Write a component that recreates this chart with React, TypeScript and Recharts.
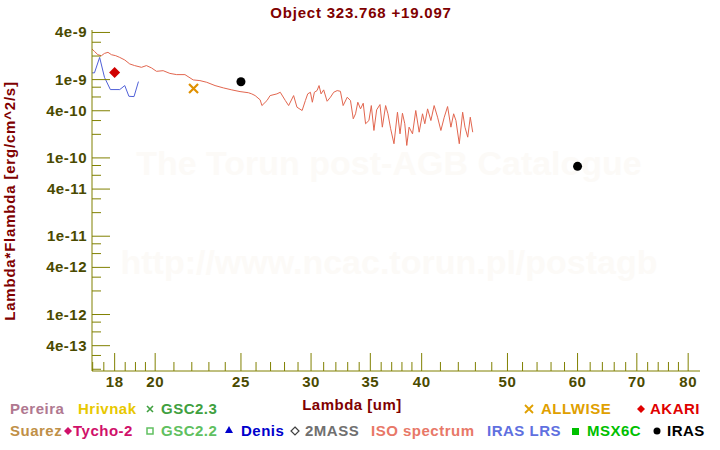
import React from 'react';
import { ComposedChart, Line, Scatter, XAxis, YAxis } from 'recharts';

// ISO SWS spectrum, lambda in um, lambda*F_lambda in units of 1e-9 erg/cm^2/s
const isoLambda = [16.97, 17.08, 17.23, 17.39, 17.53, 17.69, 17.85, 18.05, 18.24, 18.48, 18.72, 18.96, 19.3, 19.55, 19.81, 20.07, 20.42, 20.78, 21.15, 21.61, 22.08, 22.47, 22.87, 23.37, 23.88, 24.41, 24.94, 25.49, 25.71, 25.94, 26.28, 26.4, 26.75, 26.97, 27.45, 27.69, 28.06, 28.3, 28.67, 28.92, 29.31, 29.56, 29.74, 29.95, 30.1, 30.26, 30.47, 30.63, 30.79, 31.0, 31.28, 31.55, 31.82, 32.11, 32.38, 32.61, 32.96, 33.24, 33.48, 33.68, 33.88, 34.12, 34.36, 34.57, 34.87, 35.09, 35.33, 35.58, 35.89, 36.11, 36.42, 36.64, 36.9, 37.22, 37.56, 37.81, 38.05, 38.28, 38.48, 38.71, 39.06, 39.39, 39.74, 40.09, 40.33, 40.62, 40.97, 41.32, 41.69, 42.05, 42.42, 42.79, 43.16, 43.47, 43.73, 44.11, 44.5, 44.77, 45.09, 45.39, 45.68];
const isoFlux = [2.46, 2.29, 2.08, 2.02, 2.16, 2.23, 2.08, 2.02, 1.92, 1.78, 1.585, 1.51, 1.435, 1.51, 1.41, 1.276, 1.3, 1.2, 1.158, 1.158, 0.991, 0.971, 0.924, 0.839, 0.784, 0.739, 0.703, 0.68, 0.657, 0.625, 0.551, 0.466, 0.54, 0.625, 0.657, 0.689, 0.54, 0.466, 0.625, 0.444, 0.403, 0.54, 0.657, 0.689, 0.514, 0.689, 0.724, 0.839, 0.657, 0.739, 0.529, 0.595, 0.689, 0.724, 0.709, 0.466, 0.595, 0.54, 0.316, 0.366, 0.514, 0.423, 0.499, 0.273, 0.3, 0.466, 0.224, 0.411, 0.48, 0.247, 0.466, 0.366, 0.2355, 0.1517, 0.383, 0.203, 0.372, 0.273, 0.1443, 0.247, 0.203, 0.403, 0.213, 0.366, 0.273, 0.423, 0.3, 0.466, 0.331, 0.224, 0.331, 0.453, 0.247, 0.366, 0.3, 0.1517, 0.383, 0.247, 0.184, 0.331, 0.213];

// IRAS LRS (same units)
const lrsLambda = [16.97, 17.08, 17.31, 17.53, 17.8, 18.24, 18.48, 18.68, 18.93, 19.15];
const lrsFlux = [1.22, 1.22, 1.92, 1.07, 0.746, 0.746, 0.839, 0.612, 0.607, 0.943];

// photometry
const akariLambda = [18];
const akariFlux = [1.23];
const allwiseLambda = [22.1];
const allwiseFlux = [0.768];
const irasLambda = [25, 60];
const irasFlux = [0.94, 0.078];

const xTicks = [17, 17.5, 18, 18.5, 19, 19.5, 20, 21, 22, 23, 24, 25, 26, 27, 28, 29, 30, 31, 32, 33, 34, 35, 36, 37, 38, 39, 40, 42, 44, 46, 48, 50, 52, 54, 56, 58, 60, 62, 64, 66, 68, 70, 72, 74, 76, 78, 80];
const xLabels = [18, 20, 25, 30, 35, 40, 50, 60, 70, 80];
const yTicks = [2e-13, 3e-13, 4e-13, 6e-13, 8e-13, 1e-12, 2e-12, 3e-12, 4e-12, 6e-12, 8e-12, 1e-11, 2e-11, 3e-11, 4e-11, 6e-11, 8e-11, 1e-10, 2e-10, 3e-10, 4e-10, 6e-10, 8e-10, 1e-9, 2e-9, 3e-9, 4e-9];
const yLabels = [4e-13, 1e-12, 4e-12, 1e-11, 4e-11, 1e-10, 4e-10, 1e-9, 4e-9];

const E9 = 1e-9;
const toRows = (xs: number[], ys: number[]) => xs.map((x, i) => ({ x, y: ys[i] * E9 }));
const isoData = toRows(isoLambda, isoFlux);
const lrsData = toRows(lrsLambda, lrsFlux);
const akariData = toRows(akariLambda, akariFlux);
const allwiseData = toRows(allwiseLambda, allwiseFlux);
const irasData = toRows(irasLambda, irasFlux);

const OLIVE = '#808000';
const TICKTXT = '#4a4a00';
const DARKRED = '#800000';
const FONT = '"Liberation Sans", Arial, sans-serif';
const LONG = 18;
const SHORT = 9;

const isMajorX = (v: number) => xLabels.includes(v);
const isMajorY = (v: number) => yLabels.some((l) => Math.abs(l - v) / l < 1e-6);

const labelStyle = { fontFamily: FONT, fontWeight: 700, fontSize: 15, letterSpacing: 0.5 } as const;

function BottomTick(props: any) {
  const { x, y, payload } = props;
  const major = isMajorX(payload.value);
  return (
    <g>
      <line x1={x} x2={x} y1={y} y2={y - (major ? LONG : SHORT)} stroke={OLIVE} />
      {major && (
        <text x={x} y={y + 16} textAnchor="middle" fill={TICKTXT} style={labelStyle}>
          {payload.value}
        </text>
      )}
    </g>
  );
}

function TopTick(props: any) {
  const { x, y, payload } = props;
  const major = isMajorX(payload.value);
  return <line x1={x} x2={x} y1={y} y2={y + (major ? LONG : SHORT)} stroke={OLIVE} />;
}

function LeftTick(props: any) {
  const { x, y, payload } = props;
  const major = isMajorY(payload.value);
  return (
    <g>
      <line x1={x} x2={x + (major ? LONG : SHORT)} y1={y} y2={y} stroke={OLIVE} />
      {major && (
        <text x={x - 5} y={y + 5} textAnchor="end" fill={TICKTXT} style={labelStyle}>
          {Number(payload.value).toExponential(0)}
        </text>
      )}
    </g>
  );
}

function RightTick(props: any) {
  const { x, y, payload } = props;
  const major = isMajorY(payload.value);
  return <line x1={x} x2={x - (major ? LONG : SHORT)} y1={y} y2={y} stroke={OLIVE} />;
}

const Diamond = (props: any) => {
  const { cx, cy } = props;
  return <path d={`M${cx},${cy - 5.5}L${cx + 5.5},${cy}L${cx},${cy + 5.5}L${cx - 5.5},${cy}Z`} fill="#d00000" />;
};
const Cross = (props: any) => {
  const { cx, cy } = props;
  return <path d={`M${cx - 4.5},${cy - 4.5}L${cx + 4.5},${cy + 4.5}M${cx + 4.5},${cy - 4.5}L${cx - 4.5},${cy + 4.5}`} stroke="#e09000" strokeWidth={2.2} />;
};
const Dot = (props: any) => {
  const { cx, cy } = props;
  return <circle cx={cx} cy={cy} r={4.5} fill="#000" />;
};

const xDomain = [16.97, 82.5];
const yDomain = [1.9e-13, 4.3e-9];

function Overlay() {
  const t = { ...labelStyle };
  return (
    <svg width={720} height={450} style={{ position: 'absolute', left: 0, top: 0, pointerEvents: 'none' }}>
      <text x={361} y={18} textAnchor="middle" fill={DARKRED} style={{ ...t, letterSpacing: 0.8 }}>Object 323.768 +19.097</text>
      <text x={352} y={410} textAnchor="middle" fill={DARKRED} style={t}>Lambda [um]</text>
      <text x={15} y={201} textAnchor="middle" fill={DARKRED} transform="rotate(-90 15 201)" style={{ ...t, letterSpacing: 0.8 }}>Lambda*Flambda [erg/cm^2/s]</text>

      {/* legend row 1 */}
      <text x={10} y={414} fill="#b07890" style={t}>Pereira</text>
      <text x={78} y={414} fill="#e8c800" style={t}>Hrivnak</text>
      <path d="M147,406L153,412M153,406L147,412" stroke="#40a040" strokeWidth={1.6} />
      <text x={161} y={414} fill="#40a040" style={t}>GSC2.3</text>
      <path d="M525,405L533,413M533,405L525,413" stroke="#e0a000" strokeWidth={1.8} />
      <text x={541} y={414} fill="#e0a000" style={t}>ALLWISE</text>
      <path d="M641,405L645,409L641,413L637,409Z" fill="#e00000" />
      <text x={650} y={414} fill="#e00000" style={t}>AKARI</text>

      {/* legend row 2 */}
      <text x={10} y={436} fill="#c09048" style={t}>Suarez</text>
      <path d="M68,427L72,431L68,435L64,431Z" fill="#d0106a" />
      <text x={73} y={436} fill="#d0106a" style={t}>Tycho-2</text>
      <rect x={147} y={428} width={6} height={6} fill="none" stroke="#60c060" strokeWidth={1.5} />
      <text x={161} y={436} fill="#60c060" style={t}>GSC2.2</text>
      <path d="M229,426L233,433L225,433Z" fill="#0000cc" />
      <text x={241} y={436} fill="#0000cc" style={t}>Denis</text>
      <path d="M295,427L299,431L295,435L291,431Z" fill="none" stroke="#404040" strokeWidth={1.2} />
      <text x={305} y={436} fill="#707070" style={t}>2MASS</text>
      <text x={371} y={436} fill="#e87868" style={t}>ISO spectrum</text>
      <text x={487} y={436} fill="#6070e0" style={t}>IRAS LRS</text>
      <rect x={572} y={428} width={7} height={7} fill="#00c000" />
      <text x={587} y={436} fill="#00c000" style={t}>MSX6C</text>
      <circle cx={657} cy={431} r={3.5} fill="#000" />
      <text x={667} y={436} fill="#000" style={t}>IRAS</text>
    </svg>
  );
}

export default function App() {
  return (
    <div style={{ position: 'absolute', left: 0, top: 0, width: 720, height: 450, background: '#fff' }}>
      <div style={{ position: 'absolute', left: 0, top: 0, width: 720, height: 450, fontFamily: FONT, fontWeight: 700, fontSize: 34, color: '#fcfaf7' }}>
        <div style={{ position: 'absolute', left: 0, width: 778, top: 144, textAlign: 'center' }}>The Torun post-AGB Catalogue</div>
        <div style={{ position: 'absolute', left: 0, width: 778, top: 243, textAlign: 'center' }}>http://www.ncac.torun.pl/postagb</div>
      </div>
      <div style={{ position: 'absolute', left: 0, top: 0 }}>
        <ComposedChart width={720} height={450} margin={{ top: 30, right: 20, bottom: 0, left: 0 }}>
          <XAxis
            dataKey="x"
            type="number"
            scale="log"
            domain={xDomain}
            allowDataOverflow
            ticks={xTicks}
            interval={0}
            height={79}
            tickSize={0}
            tickMargin={0}
            tickLine={false}
            axisLine={{ stroke: OLIVE }}
            tick={BottomTick}
          />
          <XAxis
            xAxisId="top"
            orientation="top"
            dataKey="x"
            type="number"
            scale="log"
            domain={xDomain}
            allowDataOverflow
            ticks={xTicks}
            interval={0}
            height={0}
            tickSize={0}
            tickMargin={0}
            tickLine={false}
            axisLine={{ stroke: OLIVE }}
            tick={TopTick}
          />
          <YAxis
            dataKey="y"
            type="number"
            scale="log"
            domain={yDomain}
            allowDataOverflow
            ticks={yTicks}
            interval={0}
            width={92}
            tickSize={0}
            tickMargin={0}
            tickLine={false}
            axisLine={{ stroke: OLIVE }}
            tick={LeftTick}
          />
          <YAxis
            yAxisId="right"
            orientation="right"
            dataKey="y"
            type="number"
            scale="log"
            domain={yDomain}
            allowDataOverflow
            ticks={yTicks}
            interval={0}
            width={0}
            tickSize={0}
            tickMargin={0}
            tickLine={false}
            axisLine={{ stroke: OLIVE }}
            tick={RightTick}
          />
          <Line data={isoData} dataKey="y" type="linear" stroke="#e2664f" strokeWidth={1} dot={false} isAnimationActive={false} />
          <Line data={lrsData} dataKey="y" type="linear" stroke="#5060d8" strokeWidth={1} dot={false} isAnimationActive={false} />
          <Scatter data={akariData} dataKey="y" shape={Diamond} isAnimationActive={false} />
          <Scatter data={allwiseData} dataKey="y" shape={Cross} isAnimationActive={false} />
          <Scatter data={irasData} dataKey="y" shape={Dot} isAnimationActive={false} />
        </ComposedChart>
      </div>
      <Overlay />
    </div>
  );
}
